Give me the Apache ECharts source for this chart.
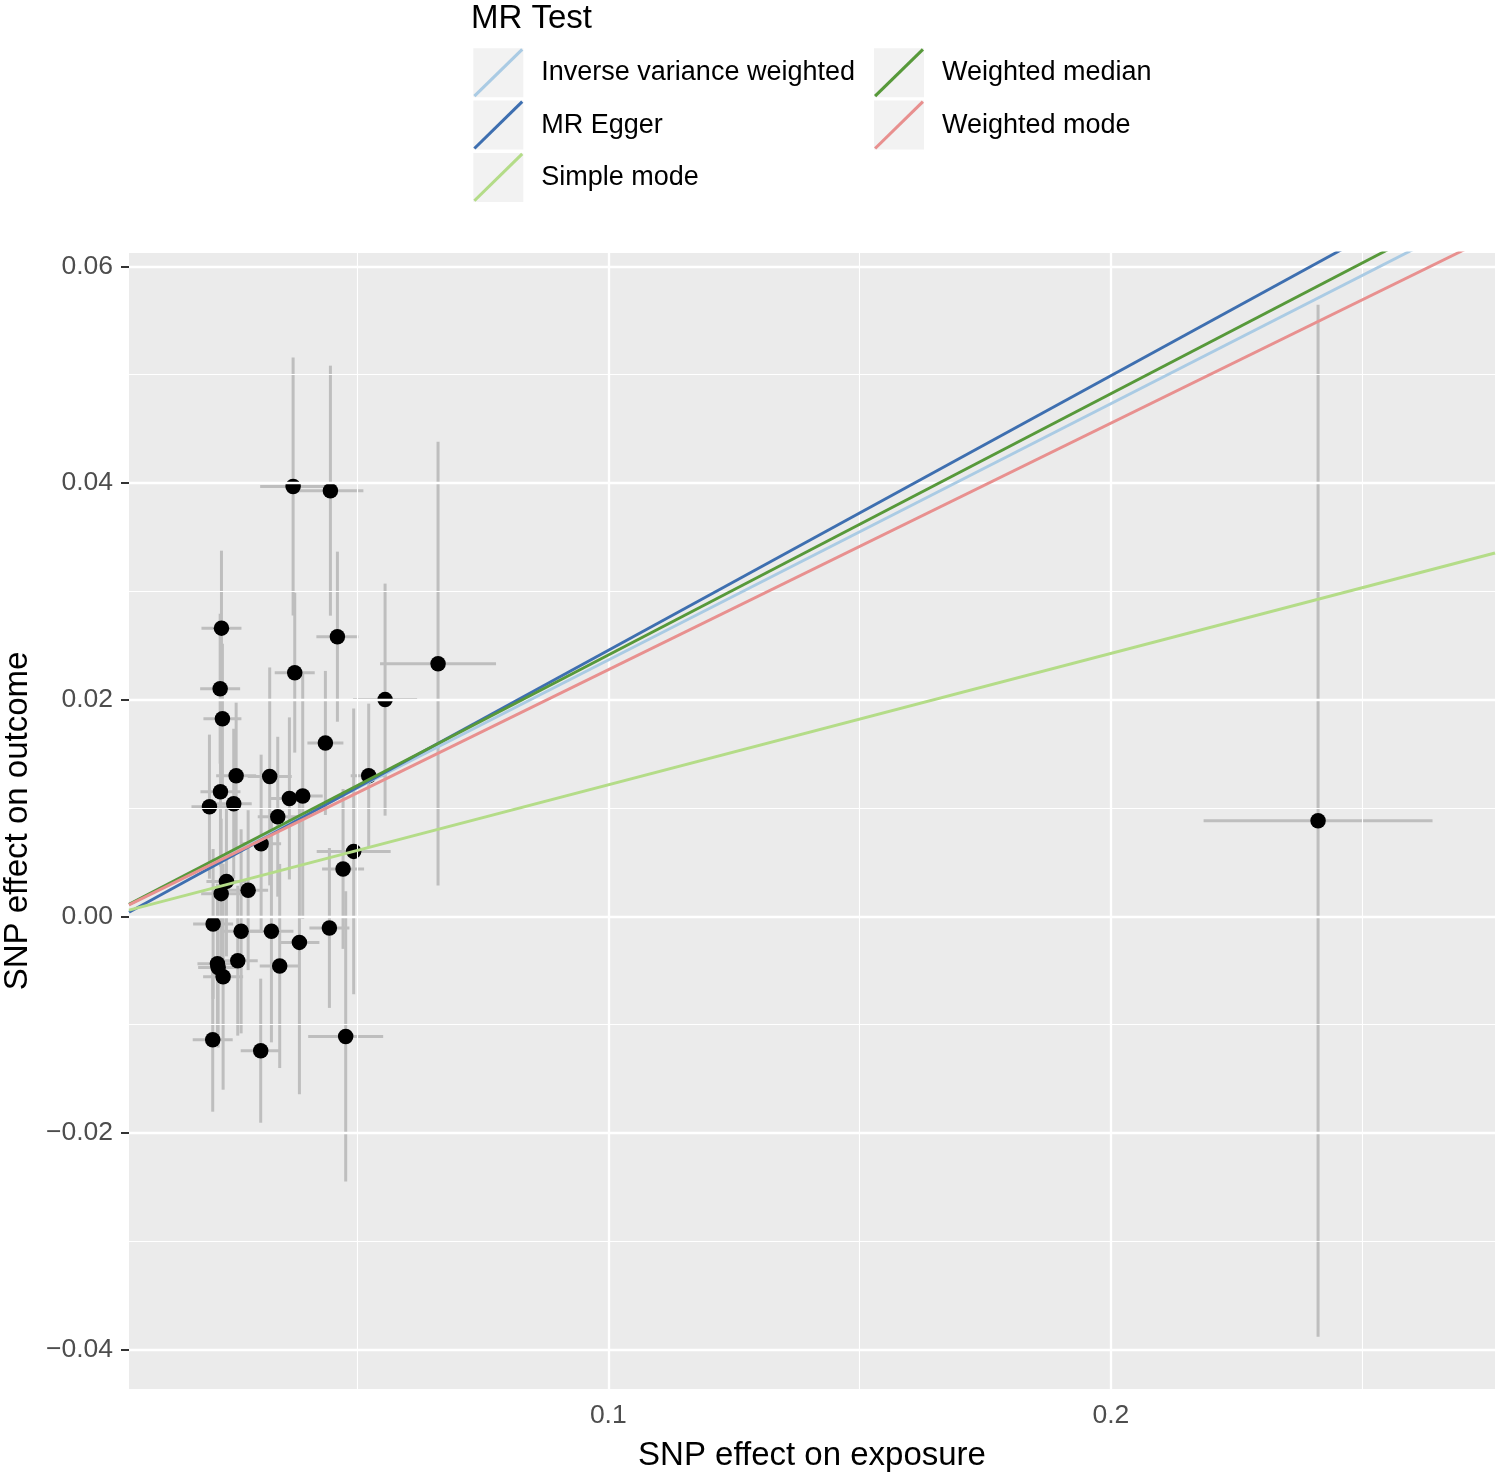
<!DOCTYPE html>
<html><head><meta charset="utf-8">
<script src="https://cdn.jsdelivr.net/npm/echarts@6/dist/echarts.min.js"></script>
<style>html,body{margin:0;padding:0;background:#fff}#c{width:1500px;height:1477px}</style>
</head><body><div id="c"></div>
<script>
// ---- data ----
const exposureBeta = [0.02302,0.02276,0.02321,0.02594,0.03262,0.02282,0.02063,0.02546,0.03654,0.03919,0.03422,0.03091,0.02401,0.02296,0.02833,0.02136,0.02693,0.03296,0.03853,0.02222,0.02236,0.02335,0.02626,0.03461,0.02128,0.03083,0.03728,0.04470,0.03760,0.04609,0.04370,0.05558,0.06612,0.05232,0.04933,0.04722,0.04450,0.04774,0.24124];
const exposureSe = [0.00398,0.00398,0.00378,0.00398,0.00438,0.00398,0.00358,0.00358,0.00398,0.00398,0.00398,0.00398,0.00398,0.00398,0.00398,0.00398,0.00398,0.00438,0.00398,0.00398,0.00398,0.00398,0.00398,0.00398,0.00398,0.00398,0.00656,0.00656,0.00398,0.00418,0.00358,0.00637,0.01154,0.00358,0.00736,0.00418,0.00398,0.00746,0.02278];
const outcomeBeta = [0.02660,0.02101,0.01824,0.01298,0.01291,0.01150,0.01012,0.01039,0.01088,0.01111,0.00919,0.00670,0.00322,0.00209,0.00241,-0.00071,-0.00139,-0.00139,-0.00241,-0.00438,-0.00474,-0.00558,-0.00410,-0.00459,-0.01139,-0.01241,0.03968,0.03929,0.02249,0.02581,0.01600,0.02000,0.02332,0.01298,0.00599,0.00437,-0.00108,-0.01109,0.00882];
const outcomeSe = [0.00715,0.00692,0.00692,0.00674,0.01006,0.00692,0.00665,0.00692,0.00748,0.01135,0.00738,0.00822,0.00692,0.00692,0.00738,0.00692,0.00942,0.01025,0.01403,0.00738,0.00738,0.01043,0.00692,0.00942,0.00665,0.00665,0.01191,0.01154,0.00738,0.00785,0.00665,0.01071,0.02049,0.00665,0.01320,0.00738,0.00738,0.01339,0.04763];

const methods = ['Inverse variance weighted','MR Egger','Simple mode','Weighted median','Weighted mode'];
const methodSlopes = [0.2366, 0.2535, 0.1213, 0.2412, 0.2276];
const methodIntercepts = [0, -0.0008, 0, 0, 0];
const methodColors = ['#AACBE4', '#3E6FB0', '#B4DC88', '#57993A', '#E8908F'];

const xTicks = [0.1, 0.2];
const xMinor = [0.05, 0.15, 0.25];
const yTicks = [-0.04, -0.02, 0, 0.02, 0.04, 0.06];
const yMinor = [-0.03, -0.01, 0.01, 0.03, 0.05];

// ---- layout ----
const X_MIN = 0.00462, X_MAX = 0.27645, Y_MIN = -0.04364, Y_MAX = 0.06123;
const FONT = "'Liberation Sans', Arial, Helvetica, sans-serif";
const GRID = {left: 129, top: 253, right: 5, bottom: 88};

const chart = echarts.init(document.getElementById('c'), null, {renderer: 'canvas'});

const points = exposureBeta.map((x, i) => [x, outcomeBeta[i], exposureSe[i], outcomeSe[i]]);

const gridLines = [];
xTicks.forEach(v => gridLines.push({xAxis: v, lineStyle: {width: 2.3}}));
xMinor.forEach(v => gridLines.push({xAxis: v, lineStyle: {width: 1.1}}));
yTicks.forEach(v => gridLines.push({yAxis: v, lineStyle: {width: 2.3}}));
yMinor.forEach(v => gridLines.push({yAxis: v, lineStyle: {width: 1.1}}));

const lineSeries = methods.map((m, i) => ({
  name: m,
  type: 'line',
  z: 5,
  silent: true,
  symbol: 'none',
  clip: true,
  color: methodColors[i],
  itemStyle: {color: methodColors[i], borderWidth: 0},
  lineStyle: {color: methodColors[i], width: 2.9},
  data: [[X_MIN, methodIntercepts[i] + methodSlopes[i] * X_MIN],
         [X_MAX, methodIntercepts[i] + methodSlopes[i] * X_MAX]]
}));

const ICON = 'path://M0.44,46.44 L47.44,0.44 L49.56,2.56 L2.56,48.56 Z';
const KEY_W = 50, KEY_H = 49, KEY_GAP = 3.3;
const LEG1 = {left: 473.3, top: 48.3}, LEG2 = {left: 874, top: 48.3};

function legendCfg(pos, data) {
  return {
    orient: 'vertical', left: pos.left, top: pos.top, padding: 0,
    itemWidth: KEY_W, itemHeight: KEY_H, itemGap: KEY_GAP,
    icon: ICON, selectedMode: false, data: data,
    itemStyle: {borderWidth: 0},
    textStyle: {fontFamily: FONT, fontSize: 27, color: '#000', padding: [7, 0, 0, 13]}
  };
}
const keyRects = [];
[[LEG1, 3], [LEG2, 2]].forEach(([p, n]) => {
  for (let k = 0; k < n; k++) {
    keyRects.push({type: 'rect', left: p.left, top: p.top + k * (KEY_H + KEY_GAP), z: 0,
      shape: {width: KEY_W, height: KEY_H}, style: {fill: '#F2F2F2'}, silent: true});
  }
});

chart.setOption({
  animation: false,
  backgroundColor: '#fff',
  title: {text: 'MR Test', left: 471, top: 1, padding: 0,
          textStyle: {fontFamily: FONT, fontSize: 33, fontWeight: 'normal', color: '#000', lineHeight: 35}},
  legend: [legendCfg(LEG1, methods.slice(0, 3)), legendCfg(LEG2, methods.slice(3))],
  graphic: keyRects,
  grid: Object.assign({show: true, backgroundColor: '#EBEBEB', borderWidth: 0, containLabel: false,
                       outerBoundsMode: 'none'}, GRID),
  xAxis: {
    type: 'value', min: X_MIN, max: X_MAX,
    name: 'SNP effect on exposure', nameLocation: 'middle', nameGap: 50,
    nameTextStyle: {fontFamily: FONT, fontSize: 33, color: '#000'},
    axisLine: {show: false},
    axisTick: {show: true, customValues: xTicks, length: 8, lineStyle: {color: '#333', width: 2}},
    axisLabel: {show: true, customValues: xTicks, margin: 13, fontFamily: FONT, fontSize: 26.5, color: '#4D4D4D',
                formatter: v => v.toFixed(1)},
    splitLine: {show: false}
  },
  yAxis: {
    type: 'value', min: Y_MIN, max: Y_MAX,
    name: 'SNP effect on outcome', nameLocation: 'middle', nameGap: 95, nameRotate: 90,
    nameTextStyle: {fontFamily: FONT, fontSize: 33, color: '#000'},
    axisLine: {show: false},
    axisTick: {show: true, customValues: yTicks, length: 8, lineStyle: {color: '#333', width: 2}},
    axisLabel: {show: true, customValues: yTicks, margin: 16, fontFamily: FONT, fontSize: 26.5, color: '#4D4D4D',
                formatter: v => (v < -1e-9 ? '\u2212' : '') + Math.abs(v).toFixed(2)},
    splitLine: {show: false}
  },
  series: [
    {
      type: 'scatter', name: '_grid', z: 1, silent: true, data: [],
      markLine: {silent: true, symbol: ['none', 'none'], animation: false,
        label: {show: false}, emphasis: {disabled: true},
        lineStyle: {color: '#FFFFFF', type: 'solid'}, data: gridLines}
    },
    {
      type: 'custom', name: '_err', z: 3, silent: true,
      data: points,
      encode: {x: 0, y: 1},
      renderItem: function (params, api) {
        const x = api.value(0), y = api.value(1), sx = api.value(2), sy = api.value(3);
        const v0 = api.coord([x, y - sy]), v1 = api.coord([x, y + sy]);
        const h0 = api.coord([x - sx, y]), h1 = api.coord([x + sx, y]);
        const style = {stroke: '#BEBEBE', lineWidth: 3};
        return {type: 'group', children: [
          {type: 'line', shape: {x1: v0[0], y1: v0[1], x2: v1[0], y2: v1[1]}, style: style},
          {type: 'line', shape: {x1: h0[0], y1: h0[1], x2: h1[0], y2: h1[1]}, style: style}
        ]};
      }
    },
    {
      type: 'scatter', name: '_pts', z: 4, silent: true,
      symbol: 'circle', symbolSize: 15.5,
      itemStyle: {color: '#000', opacity: 1},
      data: points.map(p => [p[0], p[1]])
    }
  ].concat(lineSeries)
});
</script>
</body></html>
